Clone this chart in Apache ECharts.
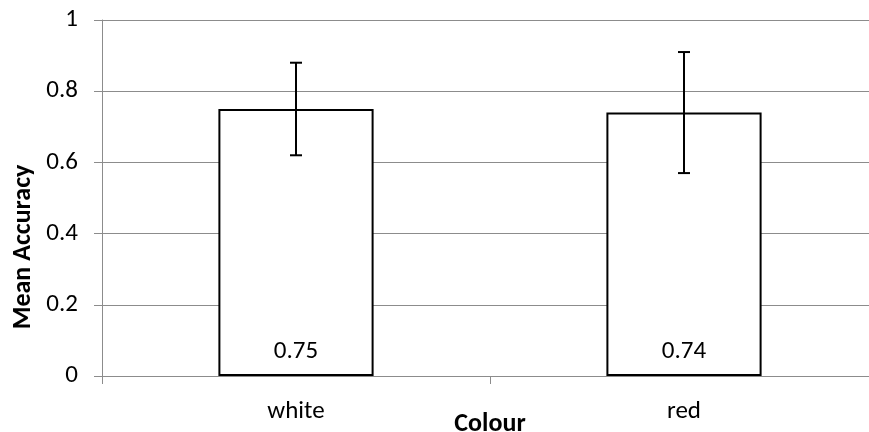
<!DOCTYPE html>
<html>
<head>
<meta charset="utf-8">
<script src="https://cdn.jsdelivr.net/npm/echarts@6/dist/echarts.min.js"></script>
<style>
  html, body { margin: 0; padding: 0; background: #fff; }
  #chart { width: 869px; height: 432px; }
</style>
</head>
<body>
<div id="chart"></div>
<script>
const categories = ['white', 'red']
const meanValues = [0.75, 0.74]
const errLow = [0.62, 0.57]
const errHigh = [0.88, 0.91]
const yTicks = [0, 0.2, 0.4, 0.6, 0.8, 1]

const font = 'Carlito, Lato, "Open Sans", sans-serif'
const axisGray = '#8c8c8c'

let myChart = echarts.init(document.getElementById('chart'))

myChart.setOption({
  animation: false,
  grid: {
    left: 102,
    right: -9,
    top: 20,
    bottom: 56,
    // the x title touches the bottom edge in the original, do not shrink the grid
    outerBoundsMode: 'none',
    containLabel: false
  },
  // y title sits lower than the plot middle in the original
  graphic: [
    {
      type: 'text',
      x: 23,
      y: 247,
      rotation: Math.PI / 2,
      style: {
        text: 'Mean Accuracy',
        font: 'bold 26px ' + font,
        fill: '#000',
        align: 'center',
        verticalAlign: 'middle'
      }
    }
  ],
  xAxis: {
    type: 'category',
    data: categories,
    name: 'Colour',
    nameLocation: 'middle',
    nameGap: 35,
    nameMoveOverlap: false,
    nameTextStyle: { fontFamily: font, fontWeight: 'bold', fontSize: 26, color: '#000', verticalAlign: 'top' },
    axisLine: { lineStyle: { color: axisGray, width: 1 } },
    axisTick: { show: true, length: 8, lineStyle: { color: axisGray } },
    axisLabel: { fontFamily: font, fontSize: 25, color: '#000', margin: 23 }
  },
  yAxis: {
    type: 'value',
    min: 0,
    max: 1,
    interval: 0.2,
    axisLine: { show: true, lineStyle: { color: axisGray } },
    axisTick: { show: true, length: 8, lineStyle: { color: axisGray } },
    axisLabel: {
      fontFamily: font, fontSize: 25, color: '#000', margin: 24,
      formatter: v => (yTicks.includes(+v.toFixed(1)) ? String(+v.toFixed(1)) : '')
    },
    splitLine: { lineStyle: { color: axisGray, width: 1 } }
  },
  series: [
    {
      type: 'bar',
      data: meanValues,
      barWidth: '40%',
      itemStyle: { color: '#fff', borderColor: '#000', borderWidth: 2 },
      label: {
        show: true,
        position: 'insideBottom',
        distance: 12,
        fontFamily: font,
        fontSize: 25,
        color: '#000'
      }
    },
    {
      type: 'custom',
      data: categories.map((c, i) => [i, errLow[i], errHigh[i]]),
      z: 10,
      renderItem: (params, api) => {
        const lo = api.coord([api.value(0), api.value(1)])
        const hi = api.coord([api.value(0), api.value(2)])
        const w = 6
        const style = { stroke: '#000', lineWidth: 2 }
        return {
          type: 'group',
          children: [
            { type: 'line', shape: { x1: lo[0], y1: lo[1], x2: hi[0], y2: hi[1] }, style },
            { type: 'line', shape: { x1: hi[0] - w, y1: hi[1], x2: hi[0] + w, y2: hi[1] }, style },
            { type: 'line', shape: { x1: lo[0] - w, y1: lo[1], x2: lo[0] + w, y2: lo[1] }, style }
          ]
        }
      }
    }
  ]
})
</script>
</body>
</html>
